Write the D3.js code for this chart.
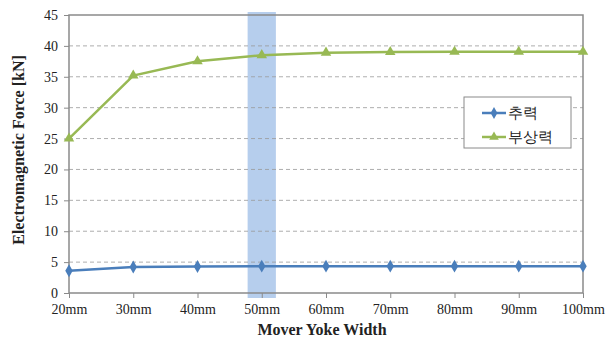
<!DOCTYPE html>
<html>
<head>
<meta charset="utf-8">
<script src="https://cdn.jsdelivr.net/npm/d3@7"></script>
<style>
  body { margin: 0; background: #fff; }
  svg { display: block; }
  text { font-family: "Liberation Serif", "DejaVu Serif", serif; }
</style>
</head>
<body>
<svg width="614" height="341"></svg>
<script>
// data
const widths = [20, 30, 40, 50, 60, 70, 80, 90, 100]
const widthLabels = ['20mm', '30mm', '40mm', '50mm', '60mm', '70mm', '80mm', '90mm', '100mm']
const thrust = [3.6, 4.2, 4.3, 4.35, 4.35, 4.35, 4.35, 4.35, 4.35]   // 추력
const levitation = [25.0, 35.2, 37.5, 38.5, 38.9, 39.0, 39.05, 39.05, 39.05] // 부상력
const yTicks = [0, 5, 10, 15, 20, 25, 30, 35, 40, 45]
const highlight = [47.8, 52.2]

const svg = d3.select('svg')
const margin = {top: 15, right: 31, bottom: 48, left: 69}
const width = 614 - margin.left - margin.right
const height = 341 - margin.top - margin.bottom
const group = svg.append('g')
  .attr('transform', 'translate(' + margin.left + ',' + margin.top + ')')

const x = d3.scaleLinear().domain([20, 100]).range([0, width])
const y = d3.scaleLinear().domain([0, 45]).range([height, 0])

// highlighted band around 50mm
group.append('rect')
  .attr('x', x(highlight[0]))
  .attr('y', -3)
  .attr('width', x(highlight[1]) - x(highlight[0]))
  .attr('height', height + 8)
  .attr('fill', '#a9c6ea')
  .attr('opacity', 0.85)

// dashed gridlines
group.selectAll('.grid')
  .data(yTicks.filter(d => d > 0 && d < 45))
  .enter()
  .append('line')
  .attr('x1', 0).attr('x2', width)
  .attr('y1', d => y(d)).attr('y2', d => y(d))
  .attr('stroke', '#9a9a9a')
  .attr('stroke-opacity', 0.8)
  .attr('stroke-width', 1)
  .attr('stroke-dasharray', '4,3')

// plot frame
group.append('rect')
  .attr('x', 0).attr('y', 0)
  .attr('width', width).attr('height', height)
  .attr('fill', 'none')
  .attr('stroke', '#8a8a8a')
  .attr('stroke-width', 1.5)

// axes
const yAxis = group.append('g')
  .call(d3.axisLeft(y).tickValues(yTicks).tickSize(5).tickPadding(6))
const xAxis = group.append('g')
  .attr('transform', 'translate(0,' + height + ')')
  .call(d3.axisBottom(x).tickValues(widths).tickSize(5).tickPadding(6)
    .tickFormat((d, i) => widthLabels[i]))
;[yAxis, xAxis].forEach(a => {
  a.select('.domain').remove()
  a.selectAll('line').attr('stroke', '#8a8a8a')
  a.selectAll('text').attr('font-size', 14).attr('fill', '#222')
    .attr('font-family', '"Liberation Serif", serif')
})

// lines and markers
const line = d3.line().x((d, i) => x(widths[i])).y(d => y(d))
const series = [
  {name: '추력', values: thrust, color: '#4a7ebb', symbol: d3.symbolDiamond},
  {name: '부상력', values: levitation, color: '#98b954', symbol: d3.symbolTriangle}
]
series.forEach(s => {
  group.append('path')
    .datum(s.values)
    .attr('d', line)
    .attr('fill', 'none')
    .attr('stroke', s.color)
    .attr('stroke-width', 2.5)
  group.selectAll(null)
    .data(s.values)
    .enter()
    .append('path')
    .attr('d', d3.symbol().type(s.symbol).size(48))
    .attr('transform', (d, i) => 'translate(' + x(widths[i]) + ',' + y(d) + ')')
    .attr('fill', s.color)
})

// legend
const legend = svg.append('g').attr('transform', 'translate(464,97)')
legend.append('rect')
  .attr('width', 107).attr('height', 51)
  .attr('fill', '#fff')
  .attr('stroke', '#8a8a8a')
legend.selectAll('.item')
  .data(series)
  .enter()
  .append('g')
  .attr('transform', (d, i) => 'translate(0,' + (16 + i * 24) + ')')
  .each(function (s) {
    const g = d3.select(this)
    g.append('line').attr('x1', 18).attr('x2', 42)
      .attr('stroke', s.color).attr('stroke-width', 2.5)
    g.append('path').attr('d', d3.symbol().type(s.symbol).size(40))
      .attr('transform', 'translate(30,0)').attr('fill', s.color)
    g.append('text').attr('x', 44).attr('dy', '0.35em')
      .attr('font-size', 15)
      .attr('font-family', '"Noto Sans CJK KR", sans-serif')
      .attr('fill', '#222')
      .text(s.name)
  })

// axis titles
svg.append('text')
  .attr('x', margin.left + width / 2 - 4)
  .attr('y', 335)
  .attr('text-anchor', 'middle')
  .attr('font-size', 16)
  .attr('font-weight', 'bold')
  .attr('fill', '#222')
  .text('Mover Yoke Width')
svg.append('text')
  .attr('transform', 'translate(24,' + (margin.top + height / 2 - 4) + ') rotate(-90)')
  .attr('text-anchor', 'middle')
  .attr('font-size', 16)
  .attr('font-weight', 'bold')
  .attr('fill', '#222')
  .text('Electromagnetic Force [kN]')
</script>
</body>
</html>
